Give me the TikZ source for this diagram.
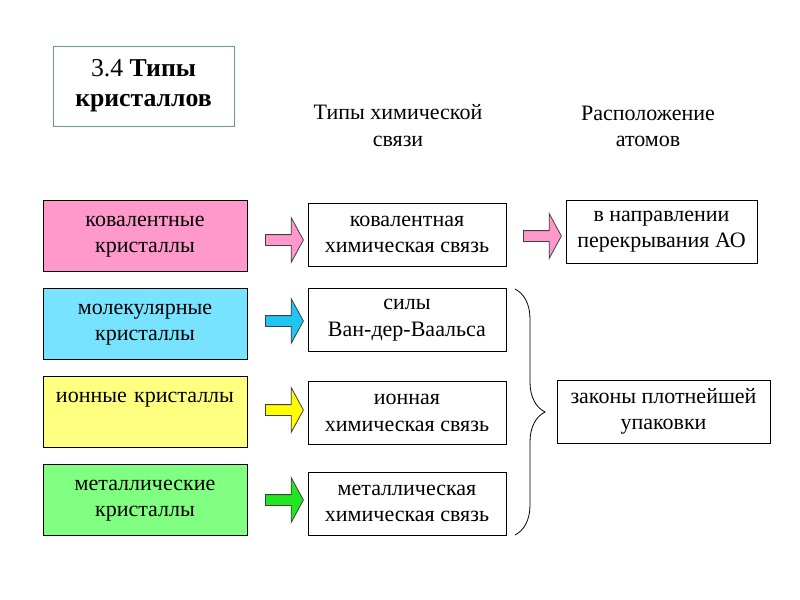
\documentclass[tikz,border=0pt]{standalone}
\usepackage{fontspec}
\setmainfont{Liberation Serif}
\usetikzlibrary{shapes.arrows, decorations.pathreplacing}
\definecolor{pinkbox}{HTML}{FF99CC}
\definecolor{cyanbox}{HTML}{78E3FF}
\definecolor{yellowbox}{HTML}{FFFF80}
\definecolor{greenbox}{HTML}{80FF80}
\definecolor{cyanarrow}{HTML}{1FC6F2}
\definecolor{yellowarrow}{HTML}{FFFF00}
\definecolor{greenarrow}{HTML}{22E622}
\definecolor{arrowline}{HTML}{404040}
\definecolor{titleline}{HTML}{6A9C8C}
\begin{document}
\begin{tikzpicture}[x=0.75pt, y=-0.75pt,
    every node/.style={font=\fontsize{16.5}{20}\selectfont},
    crystal/.style={draw, line width=0.6pt, minimum width=153pt, minimum height=53.25pt, text width=150pt, align=center, text height=12pt, text depth=26pt, inner sep=0pt},
    bond/.style={draw, line width=0.6pt, fill=white, minimum width=148.5pt, minimum height=47.25pt, align=center, inner sep=2pt},
    blockarrow/.style={single arrow, draw=arrowline, line width=0.6pt, minimum height=28.5pt, inner xsep=0pt, inner ysep=3.75pt, single arrow head extend=12.75pt, single arrow tip angle=122.8, anchor=tail}]
    \useasboundingbox (0,0) rectangle (800,600);
    \node[draw=titleline, line width=0.6pt, minimum width=135.75pt, minimum height=60pt, align=center, font=\fontsize{19.3}{22.5}\selectfont] (title) at (143.5,86) {3.4 \textbf{Типы}\\\textbf{кристаллов}};
    \node[align=center] (hbond) at (398,125.5) {Типы химической\\связи};
    \node[align=center] (hpos) at (648,126.5) {Расположение\\атомов};
    \node[crystal, fill=pinkbox] (kov) at (145,235.5) {ковалентные\\кристаллы};
    \node[crystal, fill=cyanbox] (mol) at (145,323.5) {молекулярные\\кристаллы};
    \node[crystal, fill=yellowbox] (ion) at (145,411.5) {ионные кристаллы};
    \node[crystal, fill=greenbox] (met) at (145,499.5) {металлические\\кристаллы};
    \node[bond] (bkov) at (407,234.5) {ковалентная\\химическая связь};
    \node[bond] (bmol) at (407,320) {силы\\Ван-дер-Ваальса};
    \node[bond] (bion) at (407,413) {ионная\\химическая связь};
    \node[bond] (bmet) at (407,503.5) {металлическая\\химическая связь};
    \node[bond, minimum width=143.25pt] (dir) at (661.5,231.5) {в направлении\\перекрывания АО};
    \node[bond, minimum width=159.75pt] (pack) at (663.5,411.5) {законы плотнейшей\\упаковки};
    \node[blockarrow, fill=pinkbox] (akov) at (265,240) {};
    \node[blockarrow, fill=cyanarrow] (amol) at (265,321) {};
    \node[blockarrow, fill=yellowarrow] (aion) at (265,410) {};
    \node[blockarrow, fill=greenarrow] (amet) at (265,500) {};
    \node[blockarrow, fill=pinkbox] (adir) at (523,236) {};
    \coordinate (bt) at (515,289);
    \coordinate (bb) at (515,535);
    \draw[line width=0.6pt, decorate, decoration={brace, amplitude=22.5pt}] (bt) -- (bb);
\end{tikzpicture}
\end{document}
